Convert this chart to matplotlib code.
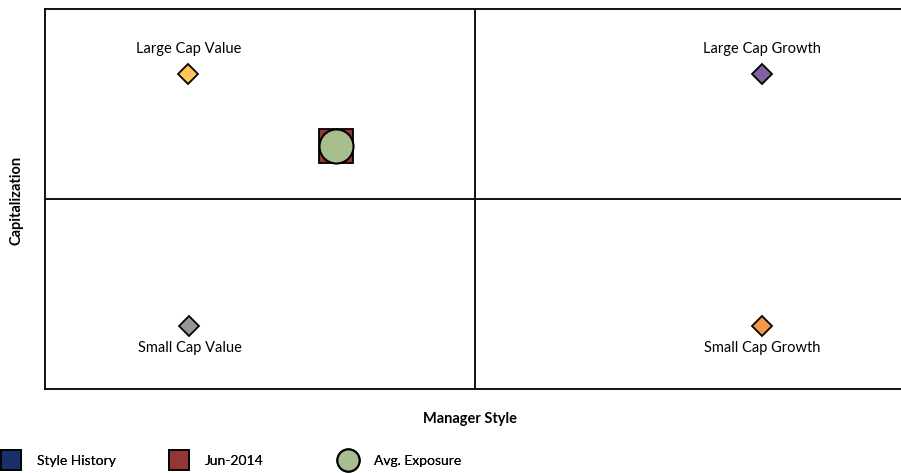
import matplotlib
matplotlib.use("Agg")
import matplotlib.pyplot as plt
from matplotlib.lines import Line2D

plt.rcParams['font.family'] = ['Lato', 'DejaVu Sans']

# Data
style_names = ["Large Cap Value", "Large Cap Growth", "Small Cap Value", "Small Cap Growth"]
style_x = [-0.667, 0.667, -0.664, 0.667]
style_y = [0.66, 0.66, -0.668, -0.668]
style_colors = ["#FFC65A", "#8064A2", "#969696", "#F79646"]

legend_labels = ["Style History", "Jun-2014", "Avg. Exposure"]
current_x = [-0.323]
current_y = [0.279]
avg_x = [-0.323]
avg_y = [0.279]
history_x = []
history_y = []

W, H = 901, 473
fig = plt.figure(figsize=(W / 100, H / 100), dpi=100)
ax = fig.add_axes([45 / W, (H - 389) / H, 860 / W, 380 / H])
ax.set_xlim(-1, 1)
ax.set_ylim(-1, 1)
ax.set_xticks([])
ax.set_yticks([])
for s in ax.spines.values():
    s.set_linewidth(1.3)
    s.set_color("black")
ax.axvline(0, color="black", lw=1.3)
ax.axhline(0, color="black", lw=1.3)

FS = 10.5
for name, x, y, c in zip(style_names, style_x, style_y, style_colors):
    ax.plot([x], [y], marker="D", ms=10, mfc=c, mec="black", mew=1.3, ls="none")
    if y > 0:
        ax.annotate(name, (x, y), xytext=(0, 12.5), textcoords="offset points",
                    ha="center", va="bottom", fontsize=FS)
    else:
        ax.annotate(name, (x, y), xytext=(0, -10.5), textcoords="offset points",
                    ha="center", va="top", fontsize=FS)

ax.plot(history_x, history_y, marker="s", ms=16, mfc="#17306A", mec="black", ls="none")
ax.plot(current_x, current_y, marker="s", ms=24, mfc="#943634", mec="black", mew=1.3, ls="none")
ax.plot(avg_x, avg_y, marker="o", ms=24.5, mfc="#A9BE8E", mec="black", mew=1.5, ls="none")

fig.text(17 / W, 1 - 200 / H, "Capitalization", rotation=90, ha="center", va="center",
         fontsize=10.5, fontweight="bold")
fig.text(470 / W, 1 - 419 / H, "Manager Style", ha="center", va="center",
         fontsize=10.5, fontweight="bold")

LFS = 10
handles = [
    Line2D([], [], marker="s", ms=15, mfc="#17306A", mec="black", mew=1.3, ls="none"),
    Line2D([], [], marker="s", ms=15, mfc="#943634", mec="black", mew=1.3, ls="none"),
    Line2D([], [], marker="o", ms=16, mfc="#A9BE8E", mec="black", mew=1.5, ls="none"),
]
handle_centers = [11, 179, 348]
fsp = LFS * 100 / 72
for h, lab, cx in zip(handles, legend_labels, handle_centers):
    leg = fig.legend([h], [lab], loc="center left",
                     bbox_to_anchor=((cx - 0.75 * fsp) / W, 1 - 461 / H),
                     frameon=False, fontsize=LFS, handlelength=1.5,
                     handletextpad=(26 - 0.75 * fsp) / fsp,
                     borderaxespad=0, borderpad=0)
    fig.add_artist(leg)

fig.savefig("out.png", dpi=100)
